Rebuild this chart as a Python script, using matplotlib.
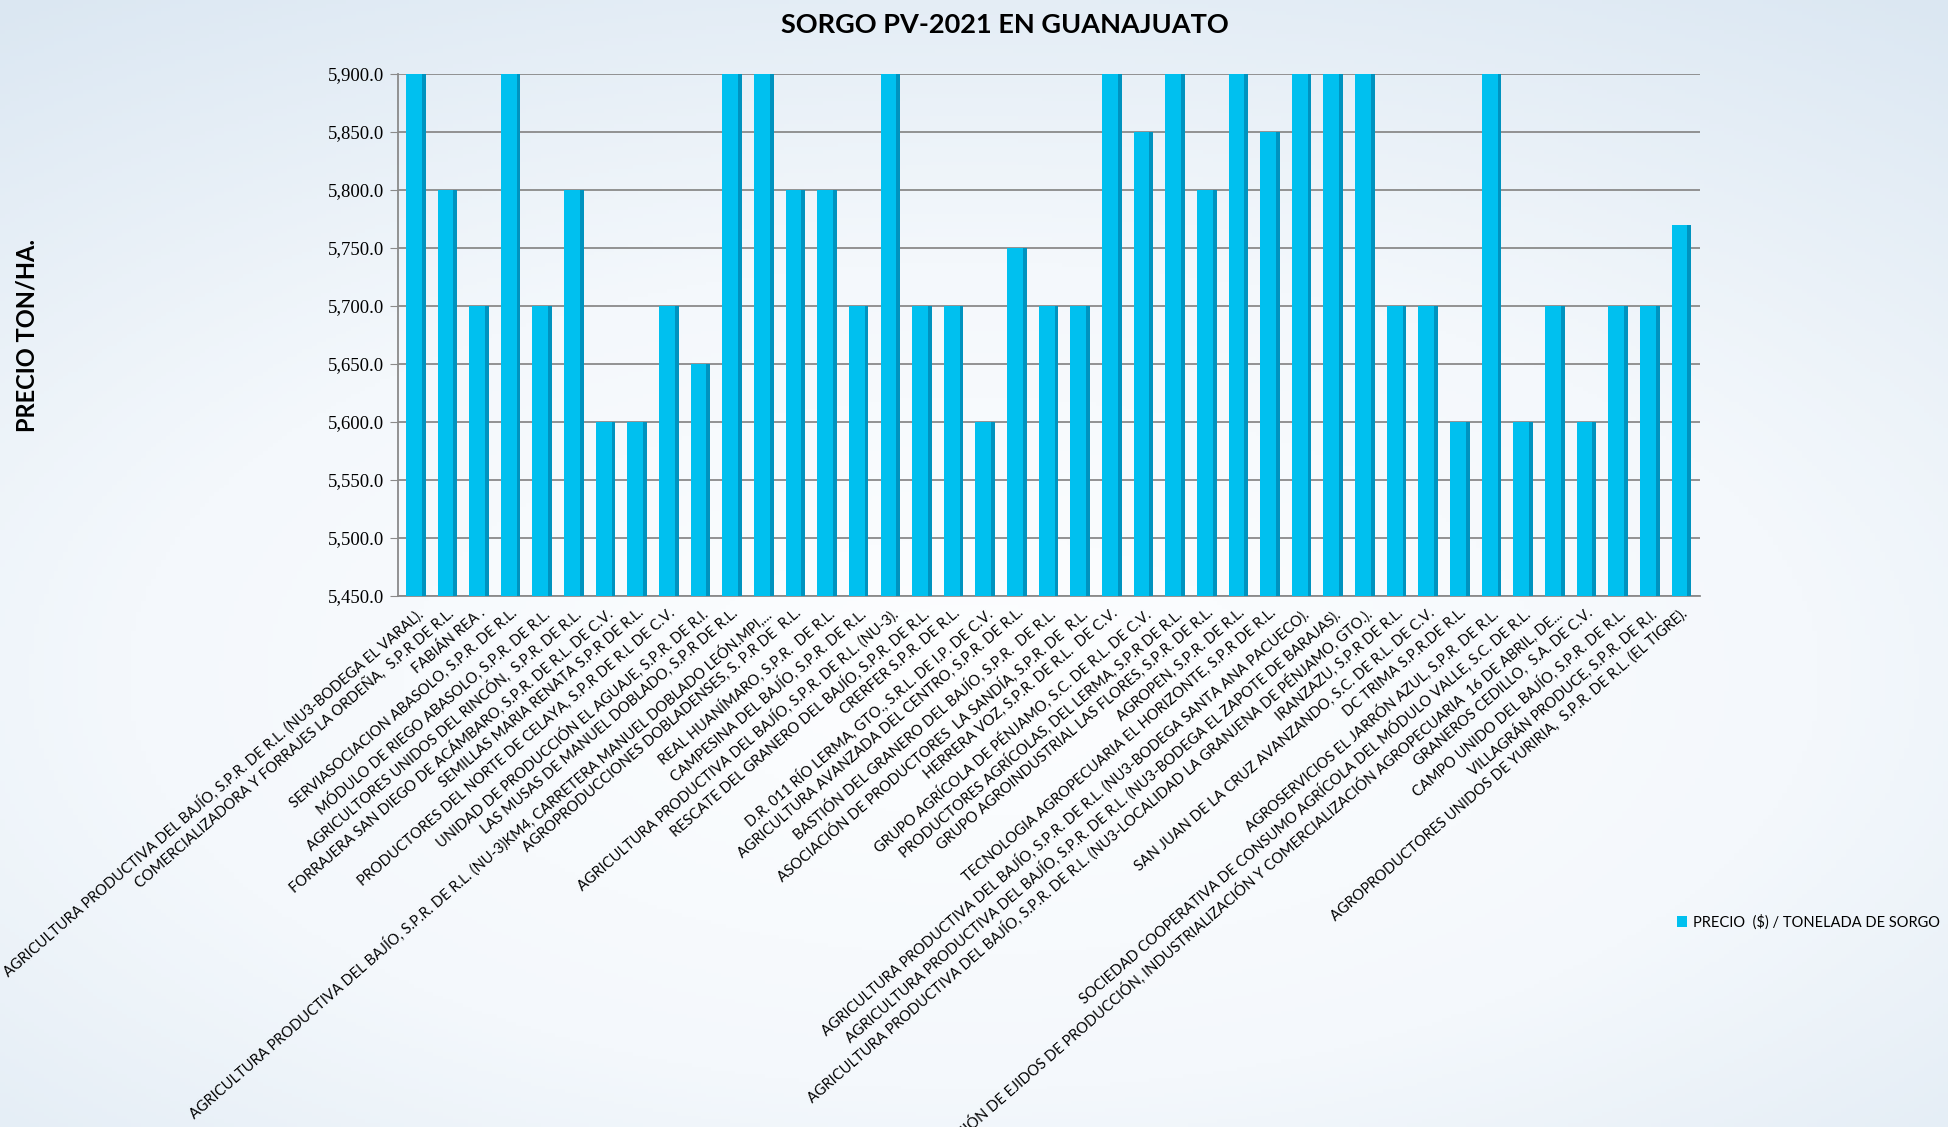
import numpy as np
import matplotlib
matplotlib.use("Agg")
import matplotlib.pyplot as plt
from matplotlib.colors import LinearSegmentedColormap
from matplotlib.ticker import FuncFormatter

empresas = [
    "AGRICULTURA PRODUCTIVA DEL BAJÍO, S.P.R. DE R.L. (NU3-BODEGA EL VARAL).",
    "COMERCIALIZADORA Y FORRAJES LA ORDEÑA,  S.P.R DE R.L.",
    "FABIÁN REA .",
    "SERVIASOCIACION ABASOLO, S.P.R. DE R.L.",
    "MÓDULO DE RIEGO ABASOLO, S.P.R. DE R.L.",
    "AGRICULTORES UNIDOS DEL RINCÓN,  S.P.R. DE R.L.",
    "FORRAJERA SAN DIEGO DE ACÁMBARO, S.P.R. DE R.L. DE C.V.",
    "SEMILLAS MARIA RENATA S.P.R DE R.L.",
    "PRODUCTORES DEL NORTE DE CELAYA, S.P.R DE R.L DE C.V.",
    "UNIDAD DE PRODUCCIÓN EL AGUAJE, S.P.R. DE R.I.",
    "LAS MUSAS DE MANUEL DOBLADO, S.P.R DE R.L.",
    "AGRICULTURA PRODUCTIVA DEL BAJÍO, S.P.R. DE R.L. (NU-3)KM4, CARRETERA MANUEL DOBLADO LEÓN.MPI,...",
    "AGROPRODUCCIONES DOBLADENSES, S. P.R DE  R.L.",
    "REAL HUANÍMARO, S.P.R.  DE R.L.",
    "CAMPESINA DEL BAJÍO, S.P.R. DE R.L.",
    "AGRICULTURA PRODUCTIVA DEL BAJÍO, S.P.R. DE R.L. (NU-3).",
    "RESCATE DEL GRANERO DEL BAJÍO, S.P.R. DE R.L.",
    "CRERFER S.P.R. DE R.L.",
    "D.R. 011 RÍO LERMA, GTO., S.R.L. DE I.P. DE C.V.",
    "AGRICULTURA AVANZADA DEL CENTRO, S.P.R. DE R.L.",
    "BASTIÓN DEL GRANERO DEL BAJÍO, S.P.R.  DE R.L.",
    "ASOCIACIÓN DE PRODUCTORES  LA SANDÍA, S.P.R. DE  R.L.",
    "HERRERA VOZ, S.P.R. DE R.L.  DE C.V.",
    "GRUPO AGRÍCOLA DE PÉNJAMO, S.C. DE R.L. DE C.V.",
    "PRODUCTORES AGRÍCOLAS, DEL LERMA, S.P.R DE R.L.",
    "GRUPO AGROINDUSTRIAL LAS FLORES, S.P.R. DE R.L.",
    "AGROPEN, S.P.R. DE R.L.",
    "TECNOLOGIA AGROPECUARIA EL HORIZONTE, S.P.R DE R.L.",
    "AGRICULTURA PRODUCTIVA DEL BAJÍO, S.P.R. DE R.L. (NU3-BODEGA SANTA ANA PACUECO).",
    "AGRICULTURA PRODUCTIVA DEL BAJÍO, S.P.R. DE R.L. (NU3-BODEGA EL ZAPOTE DE BARAJAS).",
    "AGRICULTURA PRODUCTIVA DEL BAJÍO, S.P.R. DE R.L. (NU3-LOCALIDAD LA GRANJENA DE PÉNJAMO, GTO.).",
    "IRANZAZU, S.P.R DE R.L.",
    "SAN JUAN DE LA CRUZ AVANZANDO, S.C. DE R.L. DE C.V.",
    "DC TRIMA S.P.R.DE R.L.",
    "AGROSERVICIOS EL JARRÓN AZUL, S.P.R. DE R.L.",
    "SOCIEDAD COOPERATIVA DE CONSUMO AGRÍCOLA DEL MÓDULO VALLE, S.C. DE R.L.",
    "UNIÓN DE EJIDOS DE PRODUCCIÓN, INDUSTRIALIZACIÓN Y COMERCIALIZACIÓN AGROPECUARIA  16 DE ABRIL, DE...",
    "GRANEROS CEDILLO,  S.A. DE C.V.",
    "CAMPO UNIDO DEL BAJÍO, S.P.R. DE R.L.",
    "VILLAGRÁN PRODUCE, S.P.R. DE R.I.",
    "AGROPRODUCTORES UNIDOS DE YURIRIA,  S.P.R. DE R.L. (EL TIGRE).",
]

precio = [5900, 5800, 5700, 5900, 5700, 5800, 5600, 5600, 5700, 5650,
          5900, 5900, 5800, 5800, 5700, 5900, 5700, 5700, 5600, 5750,
          5700, 5700, 5900, 5850, 5900, 5800, 5900, 5850, 5900, 5900,
          5900, 5700, 5700, 5600, 5900, 5600, 5700, 5600, 5700, 5700,
          5770]

serie = "PRECIO  ($) / TONELADA DE SORGO"
titulo = "SORGO PV-2021 EN GUANAJUATO"
eje_y = "PRECIO TON/HA."

W, H = 1948, 1127
fig = plt.figure(figsize=(W / 100, H / 100), dpi=100)

# fondo degradado azul claro
bg = fig.add_axes([0, 0, 1, 1], zorder=-10)
yy, xx = np.mgrid[0:1:300j, 0:1:400j]
d = np.sqrt(((xx - 0.5) * 1.1) ** 2 + ((yy - 0.6) * 1.3) ** 2)
cmap = LinearSegmentedColormap.from_list("fondo", ["#fdfeff", "#f4f8fc", "#dbe7f2"])
bg.imshow(d, cmap=cmap, extent=[0, 1, 0, 1], aspect="auto", origin="upper")
bg.axis("off")

ax = fig.add_axes([398 / W, 1 - 596 / H, (1700 - 398) / W, (596 - 74) / H])
ax.patch.set_alpha(0)

x = np.arange(len(precio))
barras = ax.bar(x - 0.05, precio, width=0.5, color="#00c0ef", zorder=3)
ax.bar(x + 0.26, precio, width=0.12, color="#0093bf", zorder=3)

ax.set_xlim(-0.55, len(precio) - 0.4)
ax.set_ylim(5450, 5900)
ax.set_yticks(np.arange(5450, 5901, 50))
ax.yaxis.set_major_formatter(FuncFormatter(lambda v, p: f"{v:,.1f}"))
ax.yaxis.grid(True, color="#8a8a8a", lw=1.3)
ax.set_axisbelow(True)
for s in ["top", "right"]:
    ax.spines[s].set_visible(False)
for s in ["left", "bottom"]:
    ax.spines[s].set_color("#8a8a8a")
    ax.spines[s].set_linewidth(1.3)

ax.tick_params(axis="y", length=6, color="#8a8a8a", labelsize=13.5, pad=4)
for t in ax.get_yticklabels():
    t.set_family("Liberation Serif")
ax.set_xticks(x)
ax.set_xticklabels(empresas, rotation=41, ha="right", rotation_mode="anchor",
                   fontsize=10.5, family="Lato")
ax.tick_params(axis="x", length=0, pad=7)

fig.text(0.516, 1 - 25 / H, titulo, ha="center", va="center",
         fontsize=19.5, fontweight="bold", family="Lato")
fig.text(27 / W, 1 - 335 / H, eje_y, ha="center", va="center", rotation=90,
         fontsize=17, fontweight="bold", family="Lato")

fig.legend([barras], [serie], loc="center left",
           bbox_to_anchor=(1664 / W, 1 - 922 / H), frameon=False,
           handlelength=0.7, handleheight=0.7, handletextpad=0.4,
           prop={"family": "Lato", "size": 10.5})

fig.savefig("out.png", dpi=100)
